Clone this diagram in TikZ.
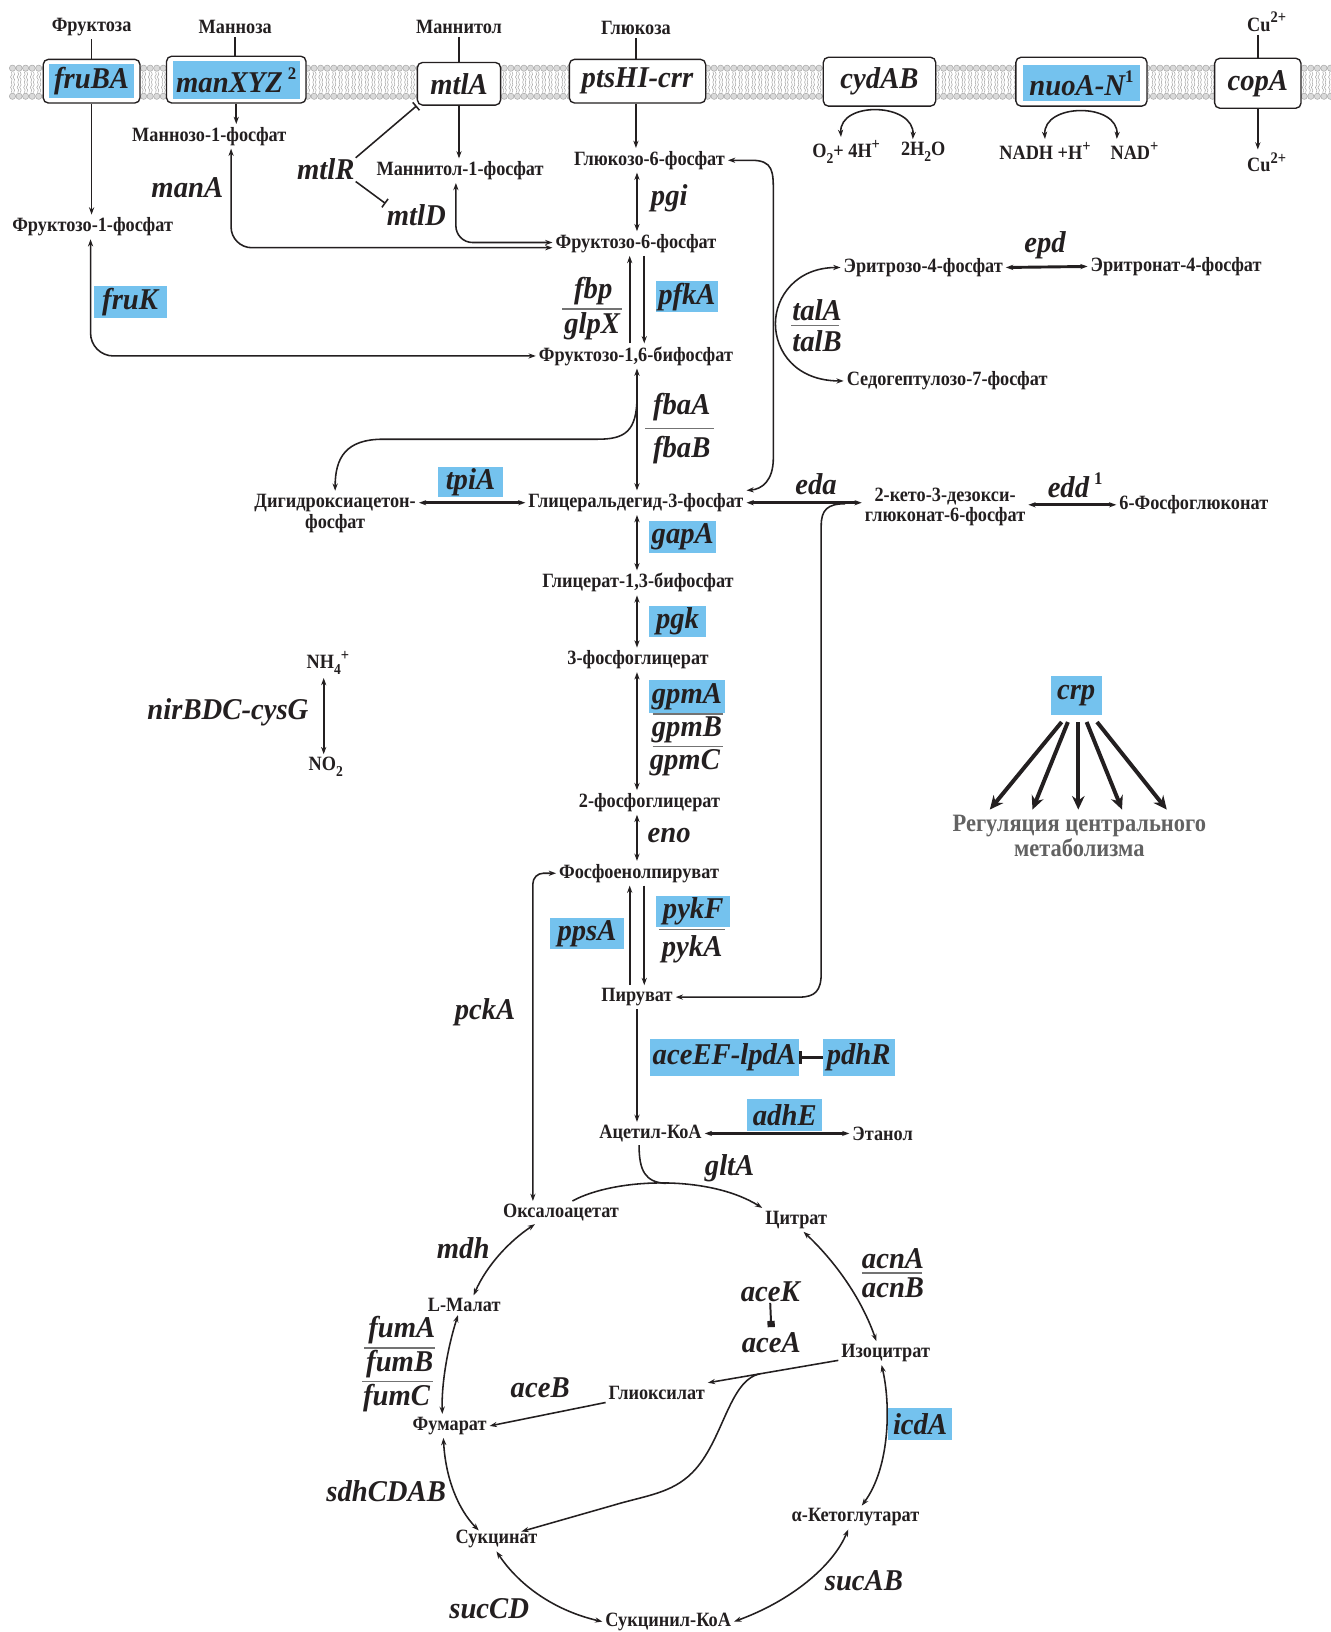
\documentclass[tikz,border=0pt]{standalone}
\usepackage{fontspec}
\setmainfont{Liberation Serif}
\newfontfamily\metfam{Liberation Serif}[FakeStretch=0.9]
\newfontfamily\genefam{Liberation Serif}[FakeStretch=0.95]
\usetikzlibrary{arrows.meta,calc}
\definecolor{genebg}{RGB}{116,194,238}
\definecolor{ink}{RGB}{35,31,32}
\definecolor{headfill}{RGB}{218,218,218}
\definecolor{headline}{RGB}{168,168,168}
\definecolor{regtext}{RGB}{98,98,98}
\newcommand\metfont{\metfam\fontsize{19.5}{20}\selectfont\bfseries}
\newcommand\genefont{\genefam\fontsize{29}{30}\selectfont\bfseries\itshape}
\newcommand\regfont{\metfam\fontsize{24}{24}\selectfont\bfseries}
% raised and lowered indices in the label fonts
\newcommand\supr[1]{\raisebox{0.42em}{\fontsize{15.5}{15.5}\selectfont\bfseries\upshape #1}}
\newcommand\subr[1]{\raisebox{-0.3em}{\fontsize{14.5}{14.5}\selectfont\bfseries\upshape #1}}
\newcommand\genesup[1]{\raisebox{0.42em}{\fontsize{17}{17}\selectfont\bfseries\upshape #1}}
\begin{document}
\begin{tikzpicture}[x=1pt,y=-1pt,
  >={Stealth[length=7pt,width=5pt]},
  met/.style={font=\metfont, text=ink, inner sep=1pt, outer sep=2pt, align=center},
  gene/.style={font=\genefont, text=ink, inner sep=1pt},
  hl/.style={gene, fill=genebg, inner sep=0pt},
  tbox/.style={draw=ink, line width=1.3pt, fill=white, rounded corners=5pt, inner sep=0pt, font=\genefont, text=ink},
  conn/.style={draw=ink, line width=1.5pt},
  main/.style={draw=ink, line width=1.9pt},
  heavy/.style={draw=ink, line width=2.8pt},
  frac/.style={draw=black!55, line width=1.3pt},
  head/.style={fill=headfill, draw=headline, line width=0.5pt},
  tail/.style={draw=headline, line width=0.5pt},
  crparrow/.style={draw=ink, line width=3.8pt, -{Stealth[length=13pt,width=12pt]}},
]
\fill[white] (0,0) rectangle (1278,1568);
\useasboundingbox (0,0) rectangle (1278,1568);

% ---------- lipid bilayer ----------
\foreach \xx in {12,18.3,...,1280} {
  \draw[tail] (\xx-1.2,69) -- ++(0.8,2.5) -- ++(-1.5,2.5) -- ++(1.5,2.5) -- ++(-0.8,2.5);
  \draw[tail] (\xx+1.2,69) -- ++(0.8,2.5) -- ++(-1.5,2.5) -- ++(1.5,2.5) -- ++(-0.8,2.5);
  \draw[tail] (\xx-1.2,79) -- ++(0.8,2.5) -- ++(-1.5,2.5) -- ++(1.5,2.5) -- ++(-0.8,2.5);
  \draw[tail] (\xx+1.2,79) -- ++(0.8,2.5) -- ++(-1.5,2.5) -- ++(1.5,2.5) -- ++(-0.8,2.5);
  \draw[head] (\xx,65.5) circle (3);
  \draw[head] (\xx,92.5) circle (3);
}

% ---------- substrates outside ----------
\node[met] (tfru) at (88,26) {Фруктоза};
\node[met] (tman) at (226,26) {Манноза};
\node[met] (tmtl) at (441,26) {Маннитол};
\node[met] (tglc) at (611,27) {Глюкоза};
\node[met] (cuout) at (1217,21) {Cu\supr{2+}};

% ---------- membrane proteins ----------
\node[tbox, minimum width=93, minimum height=42] (fruba) at (88,78) {};
\node[hl, minimum width=82, minimum height=33] (frubat) at (88,78) {fruBA};
\node[tbox, minimum width=134, minimum height=45] (manxyz) at (227,76.5) {};
\node[hl, minimum width=122, minimum height=36] (manxyzt) at (227,77) {manXYZ\,\genesup{2}};
\node[tbox, minimum width=80, minimum height=41] (mtla) at (441,80.5) {mtlA};
\node[tbox, minimum width=131, minimum height=42] (pts) at (612.5,78) {ptsHI-crr};
\node[tbox, minimum width=108, minimum height=47] (cyd) at (845,78.5) {cydAB};
\node[tbox, minimum width=126, minimum height=47] (nuo) at (1039,78.5) {};
\node[hl, minimum width=112, minimum height=35] (nuot) at (1039,80) {nuoA-N\genesup{1}};
\node[tbox, minimum width=83, minimum height=48] (copa) at (1208.5,80) {copA};

\draw[conn] (tfru.south) -- (tfru.south |- fruba.north);
\draw[conn] (tman.south) -- (tman.south |- manxyz.north);
\draw[conn] (tmtl.south) -- (tmtl.south |- mtla.north);
\draw[conn] (tglc.south) -- (tglc.south |- pts.north);
\draw[conn] (copa.north |- cuout.south) -- (copa.north);

% ---------- products inside ----------
\node[met] (f1p) at (89,218) {Фруктозо-1-фосфат};
\node[met] (m1p) at (201,131) {Маннозо-1-фосфат};
\node[met] (mt1p) at (442,164) {Маннитол-1-фосфат};
\node[met] (g6p) at (624,154) {Глюкозо-6-фосфат};
\node[met] (cuin) at (1217,156) {Cu\supr{2+}};
\node[met] (o2) at (813,146) {O\subr{2}+ 4H\supr{+}};
\node[met] (h2o) at (887,146) {2H\subr{2}O};
\node[met] (nadh) at (1004,145) {NADH +H\supr{+}};
\node[met] (nad) at (1090,145) {NAD\supr{+}};

\draw[conn,->] (fruba.south -| tfru) -- (tfru |- f1p.north);
\draw[conn,->] (manxyz.south) -- (manxyz.south |- m1p.north);
\draw[conn,->] (mtla.south) -- (mtla.south |- mt1p.north);
\draw[conn,->] (pts.south -| tglc) -- (tglc |- g6p.north);
\draw[conn,->] (copa.south) -- (copa.south |- cuin.north);

\draw[conn,<->] ($(o2.north)+(-5,0)$) .. controls +(-2,-35) and +(2,-35) .. ($(h2o.north)+(-10,0)$);
\draw[conn,<->] (nadh.north) .. controls +(-2,-35) and +(2,-35) .. ($(nad.north)+(-17,0)$);

% ---------- mannitol regulation ----------
\node[gene] (mtlr) at (313,163) {mtlR};
\node[gene] (mtld) at (400,207) {mtlD};
\node[gene] (mana) at (180,180) {manA};
\draw[conn,-{Bar[width=10pt]}] (mtlr.north east) -- (mtla.south west);
\draw[conn,-{Bar[width=10pt]}] (mtlr.south east) -- (mtld.north west);

% ---------- upper glycolysis ----------
\coordinate (ax) at (612,0);
\coordinate (axl) at (605,0);
\coordinate (axr) at (619,0);

\node[met] (f6p) at (611,234) {Фруктозо-6-фосфат};
\node[gene] (pgi) at (643,190) {pgi};
\draw[main,<->] (g6p.south -| ax) -- (f6p.north -| ax);

\draw[conn,<->,rounded corners=20] ($(m1p.south)+(21,0)$) |- ($(f6p.west)+(0,4)$);
\draw[conn,<->,rounded corners=16] ($(mt1p.south)+(-4,0)$) |- ($(f6p.west)+(0,-1)$);

\node[met] (f16bp) at (611,342) {Фруктозо-1,6-бифосфат};
\draw[main,->] (f16bp.north -| axl) -- (f6p.south -| axl);
\draw[main,->] (f6p.south -| axr) -- (f16bp.north -| axr);
\node[gene] (fbp) at (570,280) {fbp};
\draw[frac] (540,297) -- (598,297);
\node[gene] (glpx) at (569,313) {glpX};
\node[hl, minimum width=60, minimum height=30] (pfka) at (660,285) {pfkA};

\node[hl, minimum width=70, minimum height=31] (fruk) at (125,290) {fruK};
\draw[conn,<->,rounded corners=22] ($(f1p.south)+(-2,0)$) |- (f16bp.west);

\node[met] (gap) at (611,483) {Глицеральдегид-3-фосфат};
\draw[main,<->] (f16bp.south -| ax) -- (gap.north -| ax);
\node[gene] (fbaa) at (655,391) {fbaA};
\draw[frac] (620,412) -- (686,412);
\node[gene] (fbab) at (655,432) {fbaB};

\node[met] (dhap) at (322,493) {Дигидроксиацетон-\\фосфат};
\coordinate (dhapbr) at (612,381);
\draw[conn,->] (dhapbr) .. controls (612,415) and (600,422) .. (574,422) -- (368,422) .. controls (332,422) and (322,440) .. (dhap.north);
\node[hl, minimum width=63, minimum height=29] (tpia) at (452,463) {tpiA};
\draw[heavy,<->] (dhap.east |- gap.west) -- (gap.west);

\draw[conn,<->] (g6p.east) -- (722,154) .. controls (743,154) and (743,165) .. (743,185) -- (743,440) .. controls (743,462) and (732,470) .. (gap.north east);

% ---------- pentose phosphate side ----------
\node[met] (e4p) at (887,257) {Эритрозо-4-фосфат};
\node[met] (s7p) at (910,366) {Седогептулозо-7-фосфат};
\node[met] (ern) at (1130,256) {Эритронат-4-фосфат};
\draw[conn,<->] (e4p.west) .. controls (765,257) and (745,285) .. (745,311) .. controls (745,338) and (765,366) .. (s7p.west);
\node[gene] (tala) at (785,298) {talA};
\draw[frac] (760,313) -- (806,313);
\node[gene] (talb) at (785,328) {talB};
\node[gene] (epd) at (1004,236) {epd};
\draw[heavy,<->] (e4p.east) -- (ern.west);

% ---------- Entner-Doudoroff ----------
\node[met] (kdpg) at (908,487) {2-кето-3-дезокси-\\глюконат-6-фосфат};
\node[met] (pg6) at (1147,485) {6-Фосфоглюконат};
\node[gene] (eda) at (784,465) {eda};
\node[gene] (edd) at (1033,466) {edd\,\genesup{1}};
\draw[heavy,<->] (gap.east) -- (kdpg.west |- gap.east);
\draw[heavy,<->] (kdpg.east |- pg6.west) -- (pg6.west);

% ---------- lower glycolysis ----------
\node[met] (bpg) at (613,560) {Глицерат-1,3-бифосфат};
\node[hl, minimum width=64, minimum height=30] (gapa) at (656,516) {gapA};
\draw[main,<->] (gap.south -| ax) -- (bpg.north -| ax);

\node[met] (pg3) at (613,634) {3-фосфоглицерат};
\node[hl, minimum width=54, minimum height=30] (pgk) at (651,597) {pgk};
\draw[main,<->] (bpg.south -| ax) -- (pg3.north -| ax);

\node[met] (pg2) at (624,771) {2-фосфоглицерат};
\node[hl, minimum width=73, minimum height=32] (gpma) at (660,669) {gpmA};
\draw[frac] (627,686) -- (695,686);
\node[gene] (gpmb) at (660,701) {gpmB};
\draw[frac] (627,717) -- (695,717);
\node[gene] (gpmc) at (658,733) {gpmC};
\draw[main,<->] (pg3.south -| ax) -- (pg2.north -| ax);

\node[met] (pep) at (614,839) {Фосфоенолпируват};
\node[gene] (eno) at (643,803) {eno};
\draw[main,<->] (pg2.south -| ax) -- (pep.north -| ax);

\node[met] (pyr) at (612,958) {Пируват};
\draw[main,->] (pyr.north -| axl) -- (pep.south -| axl);
\draw[main,->] (pep.south -| axr) -- (pyr.north -| axr);
\node[hl, minimum width=72, minimum height=30] (ppsa) at (564,897) {ppsA};
\node[hl, minimum width=71, minimum height=30] (pykf) at (666,876) {pykF};
\draw[frac] (633,893) -- (697,893);
\node[gene] (pyka) at (665,912) {pykA};

\coordinate (edaj) at (812,484);
\draw[conn,->] (edaj) .. controls (795,484) and (789,490) .. (789,505) -- (789,935) .. controls (789,952) and (783,958) .. (768,958) -- (pyr.east);

% ---------- pyruvate to acetyl-CoA ----------
\node[met] (accoa) at (625,1089) {Ацетил-КоА};
\draw[main,->] (pyr.south -| ax) -- (accoa.north -| ax);
\node[hl, minimum width=143, minimum height=35] (acee) at (696,1016) {aceEF-lpdA};
\node[hl, minimum width=69, minimum height=36] (pdhr) at (825,1016) {pdhR};
\draw[draw=ink, line width=2.6pt, -{Bar[width=13pt]}] (pdhr.west) -- (acee.east);
\node[met] (etoh) at (848,1089) {Этанол};
\node[hl, minimum width=72, minimum height=31] (adhe) at (754,1071) {adhE};
\draw[heavy,<->] (accoa.east) -- (etoh.west);

% ---------- TCA cycle and glyoxylate shunt ----------
\node[met] (oaa) at (539,1165) {Оксалоацетат};
\node[met] (cit) at (765,1172) {Цитрат};
\node[met] (icit) at (851,1300) {Изоцитрат};
\node[met] (akg) at (822,1458) {α-Кетоглутарат};
\node[met] (scoa) at (642,1558) {Сукцинил-КоА};
\node[met] (succ) at (477,1479) {Сукцинат};
\node[met] (fum) at (432,1370) {Фумарат};
\node[met] (mal) at (446,1254) {L-Малат};
\node[met] (glyox) at (631,1338) {Глиоксилат};

\node[gene] (pcka) at (466,973) {pckA};
\draw[conn,<->,rounded corners=10] (pep.west) -| ($(oaa.north)+(-27,0)$);

\coordinate (gltj) at (640,1137);
\draw[conn,->] ($(oaa.north)+(11,0)$) .. controls (590,1132) and (680,1128) .. (cit.north west);
\draw[conn] ($(accoa.south)+(-11,0)$) .. controls (614,1125) and (620,1136) .. (gltj);
\node[gene] (glta) at (701,1122) {gltA};

\draw[conn,<->] ($(cit.south)+(7,0)$) .. controls (795,1205) and (825,1240) .. ($(icit.north)+(-9,0)$);
\node[gene] (acna) at (858,1209) {acnA};
\draw[frac] (828,1223) -- (886,1223);
\node[gene] (acnb) at (858,1237) {acnB};

\node[gene] (acek) at (740,1241) {aceK};
\node[gene] (acea) at (741,1290) {aceA};
\draw[main,-{Square[length=6pt,width=7pt]}] (acek.south) -- ($(acea.north)+(0,-4)$);

\draw[conn,<->] ($(icit.south)+(-4,0)$) .. controls (856,1350) and (855,1410) .. ($(akg.north)+(6,0)$);
\node[hl, minimum width=62, minimum height=31] (icda) at (884,1368) {icdA};

\draw[conn,<->] (scoa.east) .. controls (760,1538) and (800,1505) .. ($(akg.south)+(-7,0)$);
\node[gene] (sucab) at (830,1519) {sucAB};

\draw[conn,<->] (succ.south) .. controls (500,1525) and (535,1548) .. (scoa.west);
\node[gene] (succd) at (470,1546) {sucCD};

\draw[conn,<->] ($(fum.south)+(-6,0)$) .. controls (428,1420) and (440,1450) .. ($(succ.north)+(-17,3)$);
\node[gene] (sdh) at (371,1433) {sdhCDAB};

\draw[conn,<->] ($(mal.south)+(-6,0)$) .. controls (430,1295) and (424,1330) .. ($(fum.north)+(-7,0)$);
\node[gene] (fuma) at (386,1278) {fumA};
\draw[frac] (350,1295) -- (418,1295);
\node[gene] (fumb) at (384,1311) {fumB};
\draw[frac] (348,1327) -- (416,1327);
\node[gene] (fumc) at (381,1343) {fumC};

\draw[conn,<->] ($(oaa.south)+(-25,0)$) .. controls (490,1192) and (468,1215) .. ($(mal.north)+(9,0)$);
\node[gene] (mdh) at (445,1199) {mdh};

\draw[conn,->] ($(icit.west)+(0,7)$) -- (glyox.north east);
\coordinate (sbr) at ($($(icit.west)+(0,7)$)!0.6!(glyox.north east)$);
\draw[conn,->] (sbr) .. controls (700,1326) and (695,1385) .. (665,1415) .. controls (645,1435) and (620,1437) .. (590,1446) -- ($(succ.north)+(24,4)$);
\draw[conn,->] (glyox.south west) -- (fum.east);
\node[gene] (aceb) at (519,1333) {aceB};

% ---------- nitrite reduction ----------
\node[gene] (nir) at (219,684) {nirBDC-cysG};
\node[met] (nh4) at (315,637) {NH\subr{4}\supr{+}};
\node[met] (no2) at (313,737) {NO\subr{2}};
\draw[main,<->] ($(nh4.south)+(-4,0)$) -- ($(no2.north)+(-2,0)$);

% ---------- global regulator ----------
\node[hl, minimum width=49, minimum height=37] (crp) at (1034,668) {crp};
\node[font=\regfont, text=regtext, align=center, inner sep=1pt] (reg) at (1037,803) {Регуляция центрального\\метаболизма};
\foreach \a/\b in {-14/-86, -8/-45, 2/-1, 10/41, 20/84}
  \draw[crparrow] ($(crp.south)+(\a,7)$) -- ($(reg.north)+(\b,-4)$);
\end{tikzpicture}
\end{document}
